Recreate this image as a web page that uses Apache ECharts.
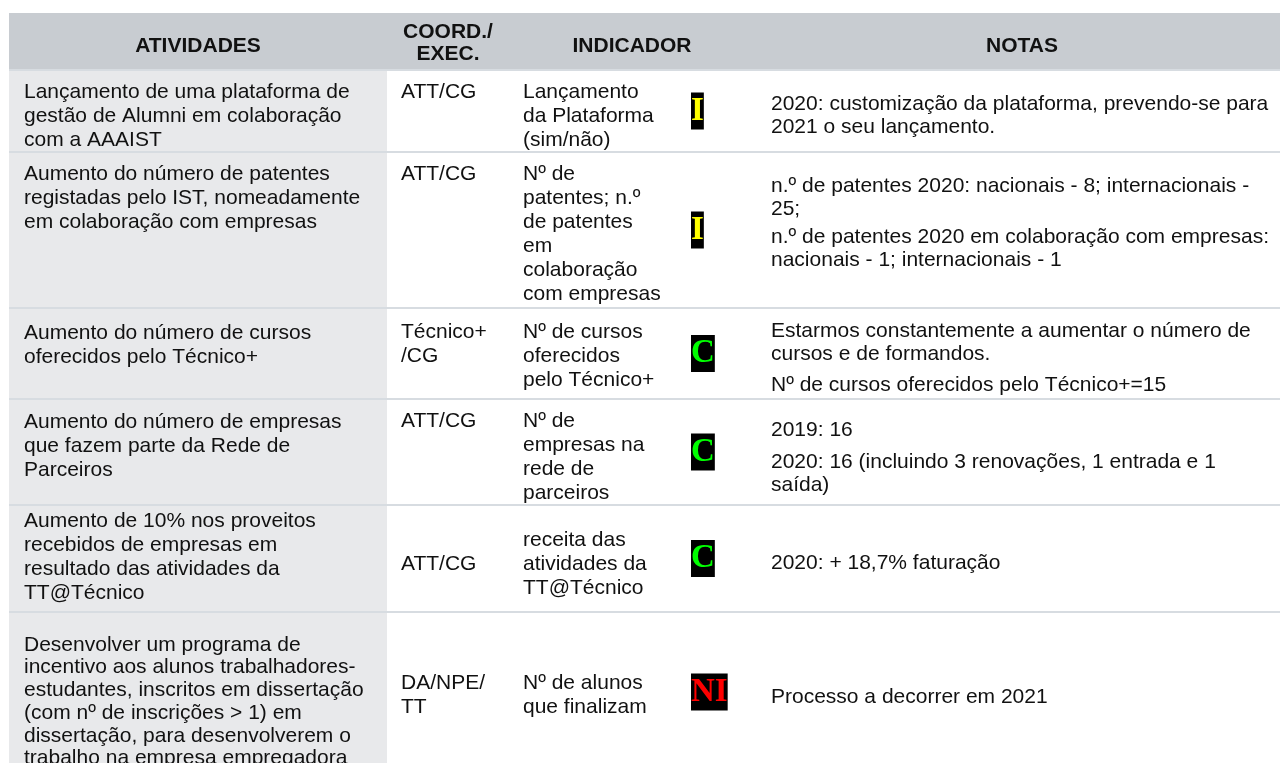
<!DOCTYPE html>
<html><head><meta charset="utf-8">
<script src="https://cdn.jsdelivr.net/npm/echarts@6/dist/echarts.min.js"></script>
<style>html,body{margin:0;padding:0;background:#fff}#c{width:1287px;height:763px}</style>
</head><body><div id="c"></div>
<script>
// ---------- data ----------
const headers = ['ATIVIDADES', 'COORD./\nEXEC.', 'INDICADOR', 'NOTAS'];
const atividades = [
  'Lançamento de uma plataforma de\ngestão de Alumni em colaboração\ncom a AAAIST',
  'Aumento do número de patentes\nregistadas pelo IST, nomeadamente\nem colaboração com empresas',
  'Aumento do número de cursos\noferecidos pelo Técnico+',
  'Aumento do número de empresas\nque fazem parte da Rede de\nParceiros',
  'Aumento de 10% nos proveitos\nrecebidos de empresas em\nresultado das atividades da\nTT@Técnico',
  'Desenvolver um programa de\nincentivo aos alunos trabalhadores-\nestudantes, inscritos em dissertação\n(com nº de inscrições > 1) em\ndissertação, para desenvolverem o\ntrabalho na empresa empregadora'
];
const coordenacao = ['ATT/CG', 'ATT/CG', 'Técnico+\n/CG', 'ATT/CG', 'ATT/CG', 'DA/NPE/\nTT'];
const indicadores = [
  'Lançamento\nda Plataforma\n(sim/não)',
  'Nº de\npatentes; n.º\nde patentes\nem\ncolaboração\ncom empresas',
  'Nº de cursos\noferecidos\npelo Técnico+',
  'Nº de\nempresas na\nrede de\nparceiros',
  'receita das\natividades da\nTT@Técnico',
  'Nº de alunos\nque finalizam'
];
const estados = ['I', 'I', 'C', 'C', 'C', 'NI'];
const notas = [
  ['2020: customização da plataforma, prevendo-se para\n2021 o seu lançamento.'],
  ['n.º de patentes 2020: nacionais - 8; internacionais -\n25;', 'n.º de patentes 2020 em colaboração com empresas:\nnacionais - 1; internacionais - 1'],
  ['Estarmos constantemente a aumentar o número de\ncursos e de formandos.', 'Nº de cursos oferecidos pelo Técnico+=15'],
  ['2019: 16', '2020: 16 (incluindo 3 renovações, 1 entrada e 1\nsaída)'],
  ['2020: + 18,7% faturação'],
  ['Processo a decorrer em 2021']
];

// ---------- layout (pixel units on hidden value axes) ----------
const colEdges = [9, 387, 510, 758, 1280];
const rowEdges = [13, 70, 152, 308, 399, 505, 612, 772];
const textX = [24, 401, 523, 771];
const badgeX = 691;
const headerCX = [198, 448, 632, 1022];
const headerCY = [46, 43, 46, 46];
// first-line centre y for columns 1..3, and each notes paragraph
const firstY = [
  [92, 92, 92, [104]],
  [174, 174, 174, [186, 237]],
  [333, 332, 332, [331, 385]],
  [422, 421, 421, [430, 462]],
  [521, 564, 540, [563]],
  [645, 683, 683, [697]]
];
const LH = 24;
const LH_NOTE = 23.5;
const badgeColors = { I: '#ffff00', C: '#00ff00', NI: '#ff0000' };
const FONT = '"Liberation Sans", Arial, Helvetica, sans-serif';
const TXT = '#111111';

const chart = echarts.init(document.getElementById('c'), null, { renderer: 'canvas' });

function txt(api, x, yc, text, lh, extra) {
  const p = api.coord([x, yc]);
  return {
    type: 'text',
    style: Object.assign({
      text: text, x: p[0], y: p[1] - lh / 2,
      fill: TXT, fontSize: 21, fontFamily: FONT,
      lineHeight: lh, align: 'left', verticalAlign: 'top'
    }, extra || {})
  };
}

const rowIdx = atividades.map((_, i) => [i, i]);

const option = {
  animation: false,
  backgroundColor: '#ffffff',
  grid: { left: 0, right: 0, top: 0, bottom: 0 },
  xAxis: { type: 'value', min: 0, max: 1287, show: false },
  yAxis: { type: 'value', min: 0, max: 763, inverse: true, show: false },
  series: [
    // backgrounds
    {
      type: 'custom', silent: true, z: 1,
      data: [[0, 0]].concat(rowIdx.map(d => [d[0] + 1, d[0] + 1])),
      renderItem: function (params, api) {
        const r = api.value(0);
        let a, b;
        if (r === 0) {
          a = api.coord([colEdges[0], rowEdges[0]]);
          b = api.coord([colEdges[4], rowEdges[1]]);
          return { type: 'rect', shape: { x: a[0], y: a[1], width: b[0] - a[0], height: b[1] - a[1] }, style: { fill: '#c8ccd1' } };
        }
        a = api.coord([colEdges[0], rowEdges[r]]);
        b = api.coord([colEdges[1], rowEdges[r + 1]]);
        return { type: 'rect', shape: { x: a[0], y: a[1], width: b[0] - a[0], height: b[1] - a[1] }, style: { fill: '#e8e9eb' } };
      }
    },
    // row separators
    {
      type: 'custom', silent: true, z: 2,
      data: rowEdges.slice(1, 7).map((v, i) => [i, v]),
      renderItem: function (params, api) {
        const y = api.value(1);
        const a = api.coord([colEdges[0], y]);
        const b = api.coord([colEdges[4], y]);
        return { type: 'rect', shape: { x: a[0], y: a[1] - 1, width: b[0] - a[0], height: 2 }, style: { fill: '#d7dce1' } };
      }
    },
    // header texts
    {
      type: 'custom', silent: true, z: 3,
      data: headers.map((h, i) => [i, i]),
      renderItem: function (params, api) {
        const c = api.value(0);
        const p = api.coord([headerCX[c], headerCY[c]]);
        return {
          type: 'text',
          style: {
            text: headers[c], x: p[0], y: p[1], align: 'center', verticalAlign: 'middle',
            fill: TXT, fontSize: 21, fontWeight: 'bold', fontFamily: FONT, lineHeight: 22
          }
        };
      }
    },
    // body cells
    {
      type: 'custom', silent: true, z: 3,
      data: rowIdx,
      renderItem: function (params, api) {
        const r = api.value(0);
        const fy = firstY[r];
        const children = [];
        children.push(txt(api, textX[0], fy[0], atividades[r], r === 5 ? 22.7 : LH));
        children.push(txt(api, textX[1], fy[1], coordenacao[r], LH));
        children.push(txt(api, textX[2], fy[2], indicadores[r], LH));
        notas[r].forEach(function (para, k) {
          children.push(txt(api, textX[3], fy[3][k], para, LH_NOTE));
        });
        const cy = (rowEdges[r + 1] + rowEdges[r + 2]) / 2;
        const bp = api.coord([badgeX, cy]);
        children.push({
          type: 'text',
          style: {
            text: estados[r], x: bp[0], y: bp[1], align: 'left', verticalAlign: 'middle',
            fill: badgeColors[estados[r]], fontSize: 33, fontWeight: 'bold',
            fontFamily: '"Liberation Serif", "Times New Roman", serif',
            lineHeight: 37, backgroundColor: '#000000', padding: 0
          }
        });
        return { type: 'group', children: children };
      }
    }
  ]
};
chart.setOption(option);
</script>
</body></html>
